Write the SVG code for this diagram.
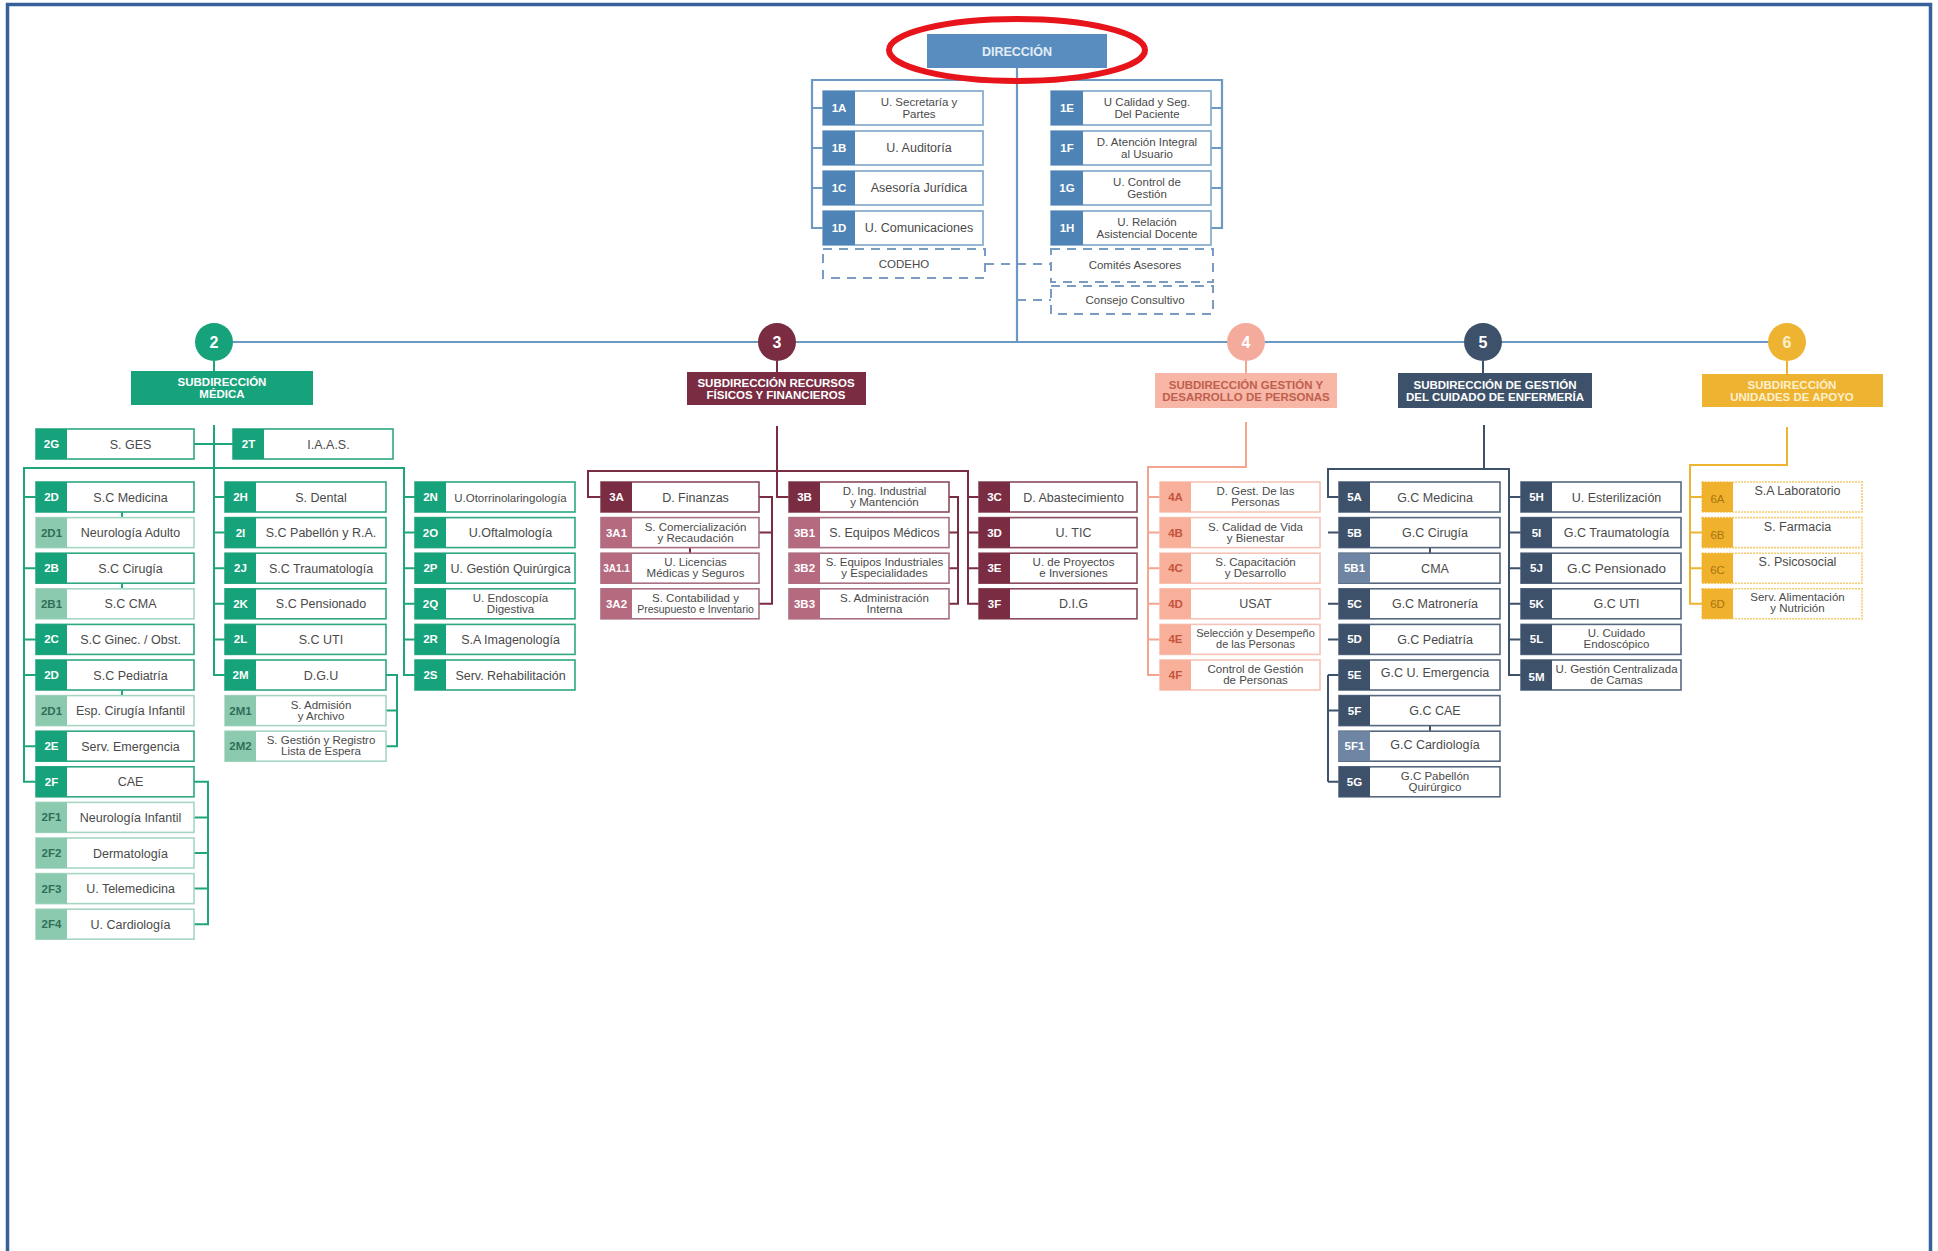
<svg xmlns="http://www.w3.org/2000/svg" width="1938" height="1251" viewBox="0 0 1938 1251">
<style>
text{font-family:"Liberation Sans",Arial,sans-serif}
.bx{fill:#fff;stroke-width:1.6}
.ct{font-size:11.5px;font-weight:bold;fill:#fff;text-anchor:middle}
.nt{font-size:12.5px;fill:#4a4a4a;text-anchor:middle}
.n2{font-size:11.5px;fill:#4a4a4a;text-anchor:middle}
.g1 .bx{stroke:#7ea4c9}.g1 .cd{fill:#4e83b5}
.g2 .bx{stroke:#2ea882}.g2 .cd{fill:#16a27a}
.g2.s .bx{stroke:#a6d6c2}.g2.s .cd{fill:#8ccab0}.g2.s .ct{fill:#2f6f57}
.g3 .bx{stroke:#8a4a5c}.g3 .cd{fill:#7a2c42}
.g3.s .cd{fill:#b56a80}.g3.s .bx{stroke:#a87080}
.g4 .bx{stroke:#f6c3b6}.g4 .cd{fill:#f8b09b}.g4 .ct{fill:#c4543b}
.g5 .bx{stroke:#56687f}.g5 .cd{fill:#3e516b}
.g5.s .cd{fill:#6e86a4}
.g6 .bx{stroke:#f3cc6f;stroke-dasharray:2 1}.g6 .cd{fill:#f0b22d}.g6 .ct{fill:#a8740f;font-weight:normal}
.sd{font-size:11.5px;font-weight:bold;text-anchor:middle}
.num{font-size:16px;font-weight:bold;fill:#fff;text-anchor:middle}
.l1{stroke:#6c98c4;stroke-width:2.2;fill:none}
.l2{stroke:#1fa57c;stroke-width:2;fill:none}
.l3{stroke:#7a2c42;stroke-width:2;fill:none}
.l4{stroke:#f4a48f;stroke-width:2;fill:none}
.l5{stroke:#3e516b;stroke-width:2;fill:none}
.l6{stroke:#efb332;stroke-width:2;fill:none}
.dash{stroke:#7a9cc0;stroke-width:2;fill:none;stroke-dasharray:9 7}
</style>
<rect width="1938" height="1251" fill="#fff"/>
<path d="M7.5,1251 V4.5 H1930.5 V1251" fill="none" stroke="#36609a" stroke-width="3.5"/>

<g id="connectors">
<path class="l1" d="M1017,68 V342 M214,342 H1786"/>
<path class="l1" d="M823,228 H812 V80 H1222 V228 H1211 M812,108 H823 M812,148 H823 M812,188 H823 M1211,108 H1222 M1211,148 H1222 M1211,188 H1222"/>
<path class="dash" d="M985,264 H1051 M1017,300 H1051"/>
<path class="l2" d="M214,361 V371 M214,425 V675 H225 M194,444 H233 M36,781.8 H24 V468 H404 V675 H415 M24,497 H36 M24,568.2 H36 M24,639.4 H36 M24,675 H36 M24,746.2 H36 M214,497 H225 M214,532.6 H225 M214,568.2 H225 M214,603.8 H225 M214,639.4 H225 M404,497 H415 M404,532.6 H415 M404,568.2 H415 M404,603.8 H415 M404,639.4 H415 M386,675 H397 V746.2 H386 M386,710.6 H397 M194,781.8 H208 V924.2 H194 M194,817.4 H208 M194,853 H208 M194,888.6 H208 M122,512 V517.6 M122,583.2 V588.8 M122,690 V695.6"/>
<path class="l3" d="M777,361 V372 M777,426 V497 H789 M601,497 H588 V471 H968 V603.8 H979 M968,497 H979 M968,532.6 H979 M968,568.2 H979 M759,497 H772 V603.8 H759 M759,532.6 H772 M949,497 H958 V603.8 H949 M949,532.6 H958 M949,568.2 H958 M690,547.6 V553.2"/>
<path class="l4" d="M1246,361 V373 M1246,422 V467 H1148 V675 H1160 M1148,497 H1160 M1148,532.6 H1160 M1148,568.2 H1160 M1148,603.8 H1160 M1148,639.4 H1160"/>
<path class="l5" d="M1483,361 V373 M1484,425 V469 M1339,497 H1328 V469 H1509 V675 H1521 M1328,532.6 H1339 M1328,603.8 H1339 M1328,639.4 H1339 M1328,675 H1339 M1328,710.6 H1339 M1328,781.8 H1339 M1328,675 V781.8 M1509,497 H1521 M1509,532.6 H1521 M1509,568.2 H1521 M1509,603.8 H1521 M1509,639.4 H1521 M1430,547.6 V553.2 M1430,725.6 V731.2"/>
<path class="l6" d="M1787,361 V374 M1787,427 V465 H1690 V603.8 H1702 M1690,497 H1702 M1690,532.6 H1702 M1690,568.2 H1702"/>
</g>

<g id="direccion">
<rect x="927" y="34" width="180" height="34" fill="#5a8dbf"/>
<text x="1017" y="56" style="font-size:12.5px;font-weight:bold;fill:#e3edf7;text-anchor:middle">DIRECCIÓN</text>
<ellipse cx="1017" cy="50" rx="128" ry="31" fill="none" stroke="#e8141b" stroke-width="6"/>
</g>

<g id="n-1A" class="g1"><rect class="bx" x="823" y="91" width="160" height="34"/><rect class="cd" x="823" y="91" width="32" height="34"/><text class="ct" x="839" y="112">1A</text><text class="n2" x="919" y="106">U. Secretaría y</text><text class="n2" x="919" y="118">Partes</text></g>
<g id="n-1B" class="g1"><rect class="bx" x="823" y="131" width="160" height="34"/><rect class="cd" x="823" y="131" width="32" height="34"/><text class="ct" x="839" y="152">1B</text><text class="nt" x="919" y="152">U. Auditoría</text></g>
<g id="n-1C" class="g1"><rect class="bx" x="823" y="171" width="160" height="34"/><rect class="cd" x="823" y="171" width="32" height="34"/><text class="ct" x="839" y="192">1C</text><text class="nt" x="919" y="192">Asesoría Jurídica</text></g>
<g id="n-1D" class="g1"><rect class="bx" x="823" y="211" width="160" height="34"/><rect class="cd" x="823" y="211" width="32" height="34"/><text class="ct" x="839" y="232">1D</text><text class="nt" x="919" y="232">U. Comunicaciones</text></g>
<g id="n-1E" class="g1"><rect class="bx" x="1051" y="91" width="160" height="34"/><rect class="cd" x="1051" y="91" width="32" height="34"/><text class="ct" x="1067" y="112">1E</text><text class="n2" x="1147" y="106">U Calidad y Seg.</text><text class="n2" x="1147" y="118">Del Paciente</text></g>
<g id="n-1F" class="g1"><rect class="bx" x="1051" y="131" width="160" height="34"/><rect class="cd" x="1051" y="131" width="32" height="34"/><text class="ct" x="1067" y="152">1F</text><text class="n2" x="1147" y="146">D. Atención Integral</text><text class="n2" x="1147" y="158">al Usuario</text></g>
<g id="n-1G" class="g1"><rect class="bx" x="1051" y="171" width="160" height="34"/><rect class="cd" x="1051" y="171" width="32" height="34"/><text class="ct" x="1067" y="192">1G</text><text class="n2" x="1147" y="186">U. Control de</text><text class="n2" x="1147" y="198">Gestión</text></g>
<g id="n-1H" class="g1"><rect class="bx" x="1051" y="211" width="160" height="34"/><rect class="cd" x="1051" y="211" width="32" height="34"/><text class="ct" x="1067" y="232">1H</text><text class="n2" x="1147" y="226">U. Relación</text><text class="n2" x="1147" y="238">Asistencial Docente</text></g>

<g id="n-codeho"><rect class="dash" x="823" y="249" width="162" height="29"/><text class="n2" x="904" y="268">CODEHO</text></g>
<g id="n-comites"><rect class="dash" x="1051" y="249" width="162" height="33"/><text class="n2" x="1135" y="269">Comités Asesores</text></g>
<g id="n-consejo"><rect class="dash" x="1051" y="286" width="162" height="28"/><text class="n2" x="1135" y="304">Consejo Consultivo</text></g>

<g id="sub-2"><circle cx="214" cy="342" r="19" fill="#16a27a"/><text class="num" x="214" y="348">2</text><rect x="131" y="371" width="182" height="34" fill="#16a27a"/><text class="sd" x="222" y="386" fill="#fff">SUBDIRECCIÓN</text><text class="sd" x="222" y="398" fill="#fff">MÉDICA</text></g>
<g id="sub-3"><circle cx="777" cy="342" r="19" fill="#7a2c42"/><text class="num" x="777" y="348">3</text><rect x="687" y="372" width="179" height="33" fill="#7a2c42"/><text class="sd" x="776" y="387" fill="#fff">SUBDIRECCIÓN RECURSOS</text><text class="sd" x="776" y="399" fill="#fff">FÍSICOS Y FINANCIEROS</text></g>
<g id="sub-4"><circle cx="1246" cy="342" r="19" fill="#f5ab9c"/><text class="num" x="1246" y="348">4</text><rect x="1155" y="373" width="182" height="35" fill="#f7b6a6"/><text class="sd" x="1246" y="389" fill="#c0604c">SUBDIRECCIÓN GESTIÓN Y</text><text class="sd" x="1246" y="401" fill="#c0604c">DESARROLLO DE PERSONAS</text></g>
<g id="sub-5"><circle cx="1483" cy="342" r="19" fill="#3e516b"/><text class="num" x="1483" y="348">5</text><rect x="1398" y="373" width="194" height="35" fill="#3e516b"/><text class="sd" x="1495" y="389" fill="#fff">SUBDIRECCIÓN DE GESTIÓN</text><text class="sd" x="1495" y="401" fill="#fff">DEL CUIDADO  DE ENFERMERÍA</text></g>
<g id="sub-6"><circle cx="1787" cy="342" r="19" fill="#efb332"/><text class="num" x="1787" y="348" style="fill:#fdf0cc">6</text><rect x="1702" y="374" width="181" height="33" fill="#efb332"/><text class="sd" x="1792" y="389" fill="#fdf0cc">SUBDIRECCIÓN</text><text class="sd" x="1792" y="401" fill="#fdf0cc">UNIDADES DE APOYO</text></g>

<g id="n-2G" class="g2"><rect class="bx" x="36" y="429" width="158" height="30"/><rect class="cd" x="36" y="429" width="31" height="30"/><text class="ct" x="51.5" y="448">2G</text><text class="nt" x="130.5" y="448.5">S. GES</text></g>
<g id="n-2T" class="g2"><rect class="bx" x="233" y="429" width="160" height="30"/><rect class="cd" x="233" y="429" width="31" height="30"/><text class="ct" x="248.5" y="448">2T</text><text class="nt" x="328.5" y="448.5">I.A.A.S.</text></g>

<g id="n-2D" class="g2"><rect class="bx" x="36" y="482" width="158" height="30"/><rect class="cd" x="36" y="482" width="31" height="30"/><text class="ct" x="51.5" y="501">2D</text><text class="nt" x="130.5" y="501.5">S.C Medicina</text></g>
<g id="n-2D1" class="g2 s"><rect class="bx" x="36" y="517.6" width="158" height="30"/><rect class="cd" x="36" y="517.6" width="31" height="30"/><text class="ct" x="51.5" y="536.6">2D1</text><text class="nt" x="130.5" y="537.1">Neurología Adulto</text></g>
<g id="n-2B" class="g2"><rect class="bx" x="36" y="553.2" width="158" height="30"/><rect class="cd" x="36" y="553.2" width="31" height="30"/><text class="ct" x="51.5" y="572.2">2B</text><text class="nt" x="130.5" y="572.7">S.C Cirugía</text></g>
<g id="n-2B1" class="g2 s"><rect class="bx" x="36" y="588.8" width="158" height="30"/><rect class="cd" x="36" y="588.8" width="31" height="30"/><text class="ct" x="51.5" y="607.8">2B1</text><text class="nt" x="130.5" y="608.3">S.C CMA</text></g>
<g id="n-2C" class="g2"><rect class="bx" x="36" y="624.4" width="158" height="30"/><rect class="cd" x="36" y="624.4" width="31" height="30"/><text class="ct" x="51.5" y="643.4">2C</text><text class="nt" x="130.5" y="643.9">S.C Ginec. / Obst.</text></g>
<g id="n-2D-b" class="g2"><rect class="bx" x="36" y="660" width="158" height="30"/><rect class="cd" x="36" y="660" width="31" height="30"/><text class="ct" x="51.5" y="679">2D</text><text class="nt" x="130.5" y="679.5">S.C Pediatría</text></g>
<g id="n-2D1-b" class="g2 s"><rect class="bx" x="36" y="695.6" width="158" height="30"/><rect class="cd" x="36" y="695.6" width="31" height="30"/><text class="ct" x="51.5" y="714.6">2D1</text><text class="nt" x="130.5" y="715.1">Esp. Cirugía Infantil</text></g>
<g id="n-2E" class="g2"><rect class="bx" x="36" y="731.2" width="158" height="30"/><rect class="cd" x="36" y="731.2" width="31" height="30"/><text class="ct" x="51.5" y="750.2">2E</text><text class="nt" x="130.5" y="750.7">Serv. Emergencia</text></g>
<g id="n-2F" class="g2"><rect class="bx" x="36" y="766.8" width="158" height="30"/><rect class="cd" x="36" y="766.8" width="31" height="30"/><text class="ct" x="51.5" y="785.8">2F</text><text class="nt" x="130.5" y="786.3">CAE</text></g>
<g id="n-2F1" class="g2 s"><rect class="bx" x="36" y="802.4" width="158" height="30"/><rect class="cd" x="36" y="802.4" width="31" height="30"/><text class="ct" x="51.5" y="821.4">2F1</text><text class="nt" x="130.5" y="821.9">Neurología Infantil</text></g>
<g id="n-2F2" class="g2 s"><rect class="bx" x="36" y="838" width="158" height="30"/><rect class="cd" x="36" y="838" width="31" height="30"/><text class="ct" x="51.5" y="857">2F2</text><text class="nt" x="130.5" y="857.5">Dermatología</text></g>
<g id="n-2F3" class="g2 s"><rect class="bx" x="36" y="873.6" width="158" height="30"/><rect class="cd" x="36" y="873.6" width="31" height="30"/><text class="ct" x="51.5" y="892.6">2F3</text><text class="nt" x="130.5" y="893.1">U. Telemedicina</text></g>
<g id="n-2F4" class="g2 s"><rect class="bx" x="36" y="909.2" width="158" height="30"/><rect class="cd" x="36" y="909.2" width="31" height="30"/><text class="ct" x="51.5" y="928.2">2F4</text><text class="nt" x="130.5" y="928.7">U. Cardiología</text></g>

<g id="n-2H" class="g2"><rect class="bx" x="225" y="482" width="161" height="30"/><rect class="cd" x="225" y="482" width="31" height="30"/><text class="ct" x="240.5" y="501">2H</text><text class="nt" x="321" y="501.5">S. Dental</text></g>
<g id="n-2I" class="g2"><rect class="bx" x="225" y="517.6" width="161" height="30"/><rect class="cd" x="225" y="517.6" width="31" height="30"/><text class="ct" x="240.5" y="536.6">2I</text><text class="nt" x="321" y="537.1">S.C Pabellón y R.A.</text></g>
<g id="n-2J" class="g2"><rect class="bx" x="225" y="553.2" width="161" height="30"/><rect class="cd" x="225" y="553.2" width="31" height="30"/><text class="ct" x="240.5" y="572.2">2J</text><text class="nt" x="321" y="572.7">S.C Traumatología</text></g>
<g id="n-2K" class="g2"><rect class="bx" x="225" y="588.8" width="161" height="30"/><rect class="cd" x="225" y="588.8" width="31" height="30"/><text class="ct" x="240.5" y="607.8">2K</text><text class="nt" x="321" y="608.3">S.C Pensionado</text></g>
<g id="n-2L" class="g2"><rect class="bx" x="225" y="624.4" width="161" height="30"/><rect class="cd" x="225" y="624.4" width="31" height="30"/><text class="ct" x="240.5" y="643.4">2L</text><text class="nt" x="321" y="643.9">S.C UTI</text></g>
<g id="n-2M" class="g2"><rect class="bx" x="225" y="660" width="161" height="30"/><rect class="cd" x="225" y="660" width="31" height="30"/><text class="ct" x="240.5" y="679">2M</text><text class="nt" x="321" y="679.5">D.G.U</text></g>
<g id="n-2M1" class="g2 s"><rect class="bx" x="225" y="695.6" width="161" height="30"/><rect class="cd" x="225" y="695.6" width="31" height="30"/><text class="ct" x="240.5" y="714.6">2M1</text><text class="n2" x="321" y="708.6">S. Admisión</text><text class="n2" x="321" y="719.6">y Archivo</text></g>
<g id="n-2M2" class="g2 s"><rect class="bx" x="225" y="731.2" width="161" height="30"/><rect class="cd" x="225" y="731.2" width="31" height="30"/><text class="ct" x="240.5" y="750.2">2M2</text><text class="n2" x="321" y="744.2">S. Gestión y Registro</text><text class="n2" x="321" y="755.2">Lista de Espera</text></g>

<g id="n-2N" class="g2"><rect class="bx" x="415" y="482" width="160" height="30"/><rect class="cd" x="415" y="482" width="31" height="30"/><text class="ct" x="430.5" y="501">2N</text><text class="nt" x="510.5" y="501.5" style="font-size:11.5px">U.Otorrinolaringología</text></g>
<g id="n-2O" class="g2"><rect class="bx" x="415" y="517.6" width="160" height="30"/><rect class="cd" x="415" y="517.6" width="31" height="30"/><text class="ct" x="430.5" y="536.6">2O</text><text class="nt" x="510.5" y="537.1">U.Oftalmología</text></g>
<g id="n-2P" class="g2"><rect class="bx" x="415" y="553.2" width="160" height="30"/><rect class="cd" x="415" y="553.2" width="31" height="30"/><text class="ct" x="430.5" y="572.2">2P</text><text class="nt" x="510.5" y="572.7">U. Gestión Quirúrgica</text></g>
<g id="n-2Q" class="g2"><rect class="bx" x="415" y="588.8" width="160" height="30"/><rect class="cd" x="415" y="588.8" width="31" height="30"/><text class="ct" x="430.5" y="607.8">2Q</text><text class="n2" x="510.5" y="601.8">U. Endoscopía</text><text class="n2" x="510.5" y="612.8">Digestiva</text></g>
<g id="n-2R" class="g2"><rect class="bx" x="415" y="624.4" width="160" height="30"/><rect class="cd" x="415" y="624.4" width="31" height="30"/><text class="ct" x="430.5" y="643.4">2R</text><text class="nt" x="510.5" y="643.9">S.A Imagenología</text></g>
<g id="n-2S" class="g2"><rect class="bx" x="415" y="660" width="160" height="30"/><rect class="cd" x="415" y="660" width="31" height="30"/><text class="ct" x="430.5" y="679">2S</text><text class="nt" x="510.5" y="679.5">Serv. Rehabilitación</text></g>

<g id="n-3A" class="g3"><rect class="bx" x="601" y="482" width="158" height="30"/><rect class="cd" x="601" y="482" width="31" height="30"/><text class="ct" x="616.5" y="501">3A</text><text class="nt" x="695.5" y="501.5">D. Finanzas</text></g>
<g id="n-3A1" class="g3 s"><rect class="bx" x="601" y="517.6" width="158" height="30"/><rect class="cd" x="601" y="517.6" width="31" height="30"/><text class="ct" x="616.5" y="536.6">3A1</text><text class="n2" x="695.5" y="530.6">S. Comercialización</text><text class="n2" x="695.5" y="541.6">y Recaudación</text></g>
<g id="n-3A1.1" class="g3 s"><rect class="bx" x="601" y="553.2" width="158" height="30"/><rect class="cd" x="601" y="553.2" width="31" height="30"/><text class="ct" x="616.5" y="572.2" style="font-size:10px">3A1.1</text><text class="n2" x="695.5" y="566.2">U. Licencias</text><text class="n2" x="695.5" y="577.2">Médicas y Seguros</text></g>
<g id="n-3A2" class="g3 s"><rect class="bx" x="601" y="588.8" width="158" height="30"/><rect class="cd" x="601" y="588.8" width="31" height="30"/><text class="ct" x="616.5" y="607.8">3A2</text><text class="n2" x="695.5" y="601.8">S. Contabilidad y</text><text class="n2" x="695.5" y="612.8" style="font-size:10.5px">Presupuesto e Inventario</text></g>

<g id="n-3B" class="g3"><rect class="bx" x="789" y="482" width="160" height="30"/><rect class="cd" x="789" y="482" width="31" height="30"/><text class="ct" x="804.5" y="501">3B</text><text class="n2" x="884.5" y="495">D. Ing. Industrial</text><text class="n2" x="884.5" y="506">y Mantención</text></g>
<g id="n-3B1" class="g3 s"><rect class="bx" x="789" y="517.6" width="160" height="30"/><rect class="cd" x="789" y="517.6" width="31" height="30"/><text class="ct" x="804.5" y="536.6">3B1</text><text class="nt" x="884.5" y="537.1">S. Equipos Médicos</text></g>
<g id="n-3B2" class="g3 s"><rect class="bx" x="789" y="553.2" width="160" height="30"/><rect class="cd" x="789" y="553.2" width="31" height="30"/><text class="ct" x="804.5" y="572.2">3B2</text><text class="n2" x="884.5" y="566.2">S. Equipos Industriales</text><text class="n2" x="884.5" y="577.2">y Especialidades</text></g>
<g id="n-3B3" class="g3 s"><rect class="bx" x="789" y="588.8" width="160" height="30"/><rect class="cd" x="789" y="588.8" width="31" height="30"/><text class="ct" x="804.5" y="607.8">3B3</text><text class="n2" x="884.5" y="601.8">S. Administración</text><text class="n2" x="884.5" y="612.8">Interna</text></g>

<g id="n-3C" class="g3"><rect class="bx" x="979" y="482" width="158" height="30"/><rect class="cd" x="979" y="482" width="31" height="30"/><text class="ct" x="994.5" y="501">3C</text><text class="nt" x="1073.5" y="501.5">D. Abastecimiento</text></g>
<g id="n-3D" class="g3"><rect class="bx" x="979" y="517.6" width="158" height="30"/><rect class="cd" x="979" y="517.6" width="31" height="30"/><text class="ct" x="994.5" y="536.6">3D</text><text class="nt" x="1073.5" y="537.1">U. TIC</text></g>
<g id="n-3E" class="g3"><rect class="bx" x="979" y="553.2" width="158" height="30"/><rect class="cd" x="979" y="553.2" width="31" height="30"/><text class="ct" x="994.5" y="572.2">3E</text><text class="n2" x="1073.5" y="566.2">U. de Proyectos</text><text class="n2" x="1073.5" y="577.2">e Inversiones</text></g>
<g id="n-3F" class="g3"><rect class="bx" x="979" y="588.8" width="158" height="30"/><rect class="cd" x="979" y="588.8" width="31" height="30"/><text class="ct" x="994.5" y="607.8">3F</text><text class="nt" x="1073.5" y="608.3">D.I.G</text></g>

<g id="n-4A" class="g4"><rect class="bx" x="1160" y="482" width="160" height="30"/><rect class="cd" x="1160" y="482" width="31" height="30"/><text class="ct" x="1175.5" y="501">4A</text><text class="n2" x="1255.5" y="495">D. Gest. De las</text><text class="n2" x="1255.5" y="506">Personas</text></g>
<g id="n-4B" class="g4"><rect class="bx" x="1160" y="517.6" width="160" height="30"/><rect class="cd" x="1160" y="517.6" width="31" height="30"/><text class="ct" x="1175.5" y="536.6">4B</text><text class="n2" x="1255.5" y="530.6">S. Calidad de Vida</text><text class="n2" x="1255.5" y="541.6">y Bienestar</text></g>
<g id="n-4C" class="g4"><rect class="bx" x="1160" y="553.2" width="160" height="30"/><rect class="cd" x="1160" y="553.2" width="31" height="30"/><text class="ct" x="1175.5" y="572.2">4C</text><text class="n2" x="1255.5" y="566.2">S. Capacitación</text><text class="n2" x="1255.5" y="577.2">y Desarrollo</text></g>
<g id="n-4D" class="g4"><rect class="bx" x="1160" y="588.8" width="160" height="30"/><rect class="cd" x="1160" y="588.8" width="31" height="30"/><text class="ct" x="1175.5" y="607.8">4D</text><text class="nt" x="1255.5" y="608.3">USAT</text></g>
<g id="n-4E" class="g4"><rect class="bx" x="1160" y="624.4" width="160" height="30"/><rect class="cd" x="1160" y="624.4" width="31" height="30"/><text class="ct" x="1175.5" y="643.4">4E</text><text class="n2" x="1255.5" y="637.4" style="font-size:11px">Selección y Desempeño</text><text class="n2" x="1255.5" y="648.4" style="font-size:11px">de las Personas</text></g>
<g id="n-4F" class="g4"><rect class="bx" x="1160" y="660" width="160" height="30"/><rect class="cd" x="1160" y="660" width="31" height="30"/><text class="ct" x="1175.5" y="679">4F</text><text class="n2" x="1255.5" y="673">Control de Gestión</text><text class="n2" x="1255.5" y="684">de Personas</text></g>

<g id="n-5A" class="g5"><rect class="bx" x="1339" y="482" width="161" height="30"/><rect class="cd" x="1339" y="482" width="31" height="30"/><text class="ct" x="1354.5" y="501">5A</text><text class="nt" x="1435" y="501.5">G.C Medicina</text></g>
<g id="n-5B" class="g5"><rect class="bx" x="1339" y="517.6" width="161" height="30"/><rect class="cd" x="1339" y="517.6" width="31" height="30"/><text class="ct" x="1354.5" y="536.6">5B</text><text class="nt" x="1435" y="537.1">G.C Cirugía</text></g>
<g id="n-5B1" class="g5 s"><rect class="bx" x="1339" y="553.2" width="161" height="30"/><rect class="cd" x="1339" y="553.2" width="31" height="30"/><text class="ct" x="1354.5" y="572.2">5B1</text><text class="nt" x="1435" y="572.7">CMA</text></g>
<g id="n-5C" class="g5"><rect class="bx" x="1339" y="588.8" width="161" height="30"/><rect class="cd" x="1339" y="588.8" width="31" height="30"/><text class="ct" x="1354.5" y="607.8">5C</text><text class="nt" x="1435" y="608.3">G.C Matronería</text></g>
<g id="n-5D" class="g5"><rect class="bx" x="1339" y="624.4" width="161" height="30"/><rect class="cd" x="1339" y="624.4" width="31" height="30"/><text class="ct" x="1354.5" y="643.4">5D</text><text class="nt" x="1435" y="643.9">G.C Pediatría</text></g>
<g id="n-5E" class="g5"><rect class="bx" x="1339" y="660" width="161" height="30"/><rect class="cd" x="1339" y="660" width="31" height="30"/><text class="ct" x="1354.5" y="679">5E</text><text class="nt" x="1435" y="677">G.C U. Emergencia</text></g>
<g id="n-5F" class="g5"><rect class="bx" x="1339" y="695.6" width="161" height="30"/><rect class="cd" x="1339" y="695.6" width="31" height="30"/><text class="ct" x="1354.5" y="714.6">5F</text><text class="nt" x="1435" y="715.1">G.C CAE</text></g>
<g id="n-5F1" class="g5 s"><rect class="bx" x="1339" y="731.2" width="161" height="30"/><rect class="cd" x="1339" y="731.2" width="31" height="30"/><text class="ct" x="1354.5" y="750.2">5F1</text><text class="nt" x="1435" y="748.5">G.C Cardiología</text></g>
<g id="n-5G" class="g5"><rect class="bx" x="1339" y="766.8" width="161" height="30"/><rect class="cd" x="1339" y="766.8" width="31" height="30"/><text class="ct" x="1354.5" y="785.8">5G</text><text class="n2" x="1435" y="779.8">G.C Pabellón</text><text class="n2" x="1435" y="790.8">Quirúrgico</text></g>

<g id="n-5H" class="g5"><rect class="bx" x="1521" y="482" width="160" height="30"/><rect class="cd" x="1521" y="482" width="31" height="30"/><text class="ct" x="1536.5" y="501">5H</text><text class="nt" x="1616.5" y="501.5">U. Esterilización</text></g>
<g id="n-5I" class="g5"><rect class="bx" x="1521" y="517.6" width="160" height="30"/><rect class="cd" x="1521" y="517.6" width="31" height="30"/><text class="ct" x="1536.5" y="536.6">5I</text><text class="nt" x="1616.5" y="537.1">G.C Traumatología</text></g>
<g id="n-5J" class="g5"><rect class="bx" x="1521" y="553.2" width="160" height="30"/><rect class="cd" x="1521" y="553.2" width="31" height="30"/><text class="ct" x="1536.5" y="572.2">5J</text><text class="nt" x="1616.5" y="572.7" style="font-size:13.5px">G.C Pensionado</text></g>
<g id="n-5K" class="g5"><rect class="bx" x="1521" y="588.8" width="160" height="30"/><rect class="cd" x="1521" y="588.8" width="31" height="30"/><text class="ct" x="1536.5" y="607.8">5K</text><text class="nt" x="1616.5" y="608.3">G.C UTI</text></g>
<g id="n-5L" class="g5"><rect class="bx" x="1521" y="624.4" width="160" height="30"/><rect class="cd" x="1521" y="624.4" width="31" height="30"/><text class="ct" x="1536.5" y="643.4">5L</text><text class="n2" x="1616.5" y="637.4">U. Cuidado</text><text class="n2" x="1616.5" y="648.4">Endoscópico</text></g>
<g id="n-5M" class="g5"><rect class="bx" x="1521" y="660" width="160" height="30"/><rect class="cd" x="1521" y="660" width="31" height="30"/><text class="ct" x="1536.5" y="681">5M</text><text class="n2" x="1616.5" y="673">U. Gestión Centralizada</text><text class="n2" x="1616.5" y="684">de Camas</text></g>

<g id="n-6A" class="g6"><rect class="bx" x="1702" y="482" width="160" height="30"/><rect class="cd" x="1702" y="482" width="31" height="30"/><text class="ct" x="1717.5" y="503">6A</text><text class="nt" x="1797.5" y="495">S.A Laboratorio</text></g>
<g id="n-6B" class="g6"><rect class="bx" x="1702" y="517.6" width="160" height="30"/><rect class="cd" x="1702" y="517.6" width="31" height="30"/><text class="ct" x="1717.5" y="538.6">6B</text><text class="nt" x="1797.5" y="530.6">S. Farmacia</text></g>
<g id="n-6C" class="g6"><rect class="bx" x="1702" y="553.2" width="160" height="30"/><rect class="cd" x="1702" y="553.2" width="31" height="30"/><text class="ct" x="1717.5" y="574.2">6C</text><text class="nt" x="1797.5" y="566.2">S. Psicosocial</text></g>
<g id="n-6D" class="g6"><rect class="bx" x="1702" y="588.8" width="160" height="30"/><rect class="cd" x="1702" y="588.8" width="31" height="30"/><text class="ct" x="1717.5" y="607.8">6D</text><text class="n2" x="1797.5" y="600.8">Serv. Alimentación</text><text class="n2" x="1797.5" y="611.8">y Nutrición</text></g>
</svg>
